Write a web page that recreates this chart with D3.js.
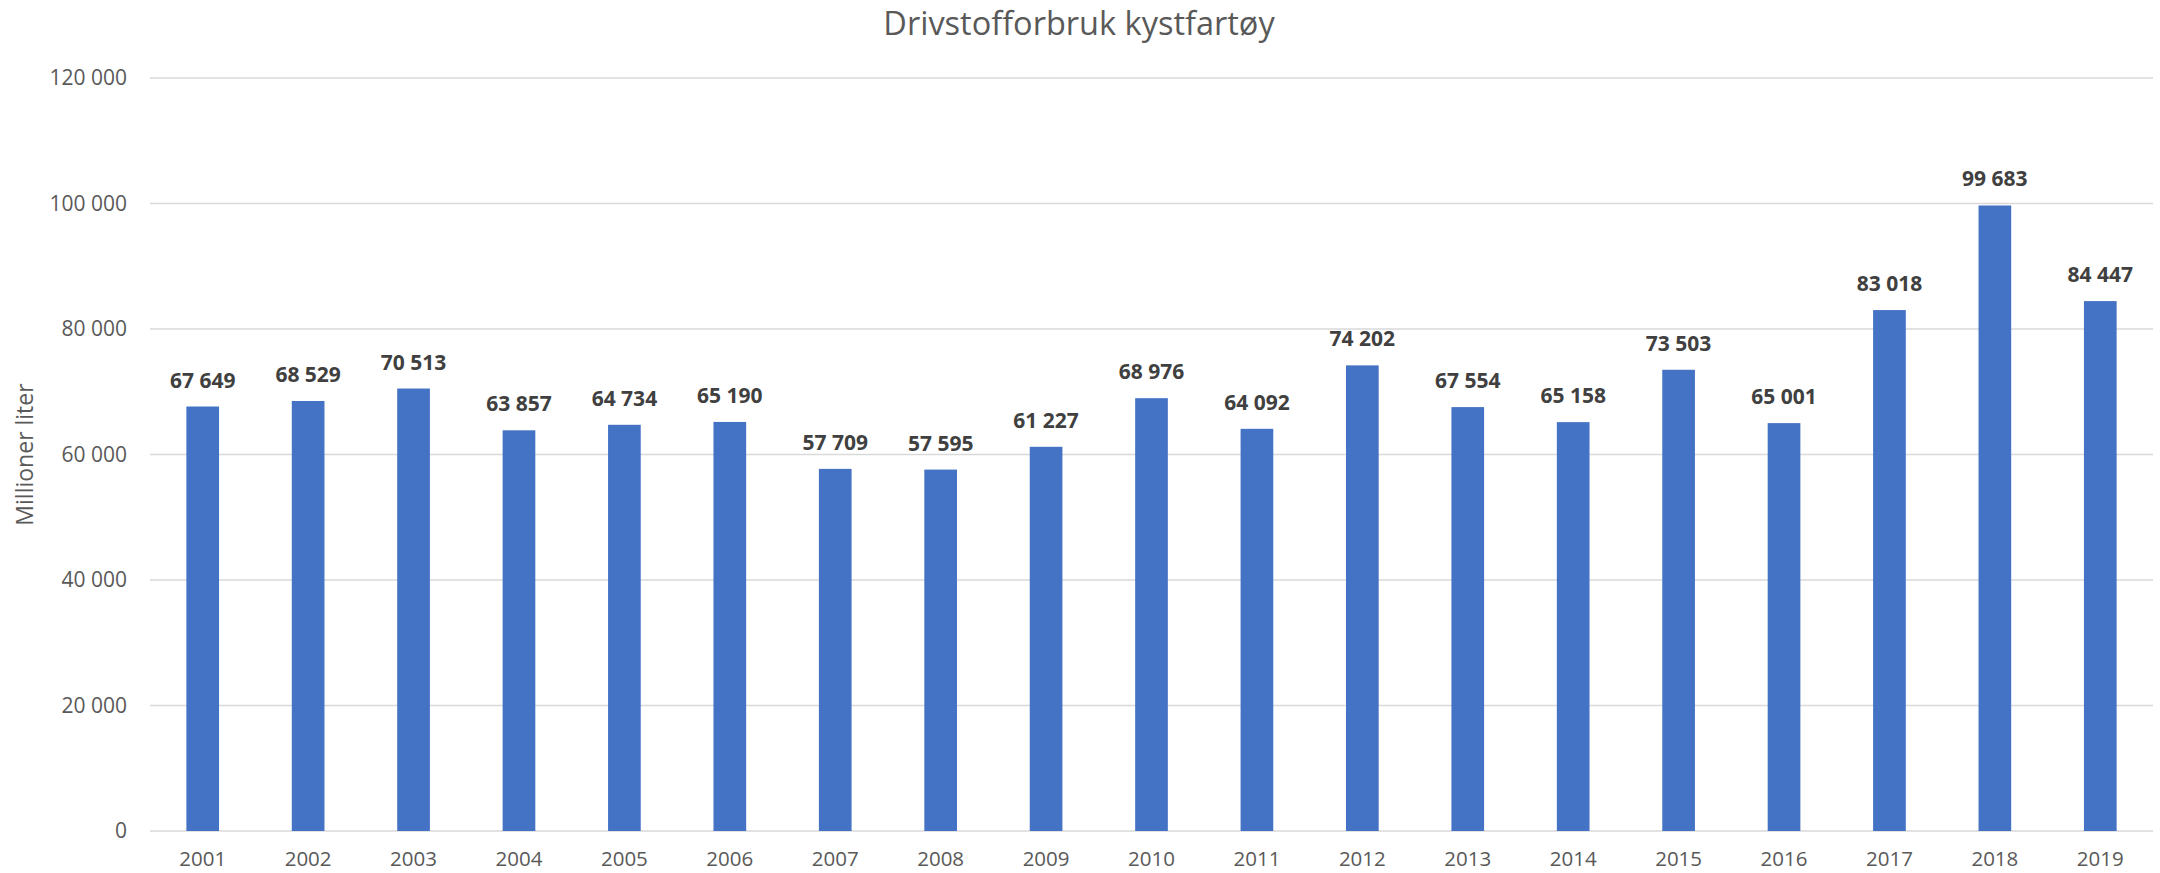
<!DOCTYPE html>
<html>
<head>
<meta charset="utf-8">
<script src="https://cdn.jsdelivr.net/npm/d3@7"></script>
<style>
  html, body { margin: 0; padding: 0; background: #fff; }
  svg { display: block; font-family: "Open Sans", sans-serif; }
</style>
</head>
<body>
<script>
const years = ["2001","2002","2003","2004","2005","2006","2007","2008","2009","2010",
               "2011","2012","2013","2014","2015","2016","2017","2018","2019"];
const fuel = [67649, 68529, 70513, 63857, 64734, 65190, 57709, 57595, 61227, 68976,
              64092, 74202, 67554, 65158, 73503, 65001, 83018, 99683, 84447];
const yTicks = [0, 20000, 40000, 60000, 80000, 100000, 120000];

const width = 2160, height = 873;
const margin = {top: 78, right: 7, bottom: 42, left: 150};

const fmt = v => d3.format(",")(v).replace(/,/g, " ");

const svg = d3.select("body").append("svg")
    .attr("width", width)
    .attr("height", height);

const x = d3.scaleBand()
    .domain(years)
    .range([margin.left, width - margin.right])
    .paddingInner(0.69)
    .paddingOuter(0.345);

const y = d3.scaleLinear()
    .domain([0, 120000])
    .range([height - margin.bottom, margin.top]);

// gridlines
svg.append("g")
  .selectAll("line")
  .data(yTicks)
  .join("line")
    .attr("x1", margin.left)
    .attr("x2", width - margin.right)
    .attr("y1", d => y(d))
    .attr("y2", d => y(d))
    .attr("stroke", "#d9d9d9")
    .attr("stroke-width", 1.5);

// y tick labels
svg.append("g")
    .attr("text-anchor", "end")
    .attr("fill", "#595959")
    .style("font-size", "21px")
  .selectAll("text")
  .data(yTicks)
  .join("text")
    .attr("x", 127)
    .attr("y", d => y(d))
    .attr("dy", "0.35em")
    .text(fmt);

// bars
svg.append("g")
    .attr("fill", "#4472c4")
  .selectAll("rect")
  .data(fuel)
  .join("rect")
    .attr("x", (d, i) => x(years[i]))
    .attr("y", d => y(d))
    .attr("width", x.bandwidth())
    .attr("height", d => y(0) - y(d));

// value labels
svg.append("g")
    .attr("text-anchor", "middle")
    .attr("fill", "#404040")
    .style("font-size", "21px")
    .style("font-weight", "bold")
  .selectAll("text")
  .data(fuel)
  .join("text")
    .attr("x", (d, i) => x(years[i]) + x.bandwidth() / 2)
    .attr("y", d => y(d) - 19)
    .text(fmt);

// x tick labels
svg.append("g")
    .attr("text-anchor", "middle")
    .attr("fill", "#595959")
    .style("font-size", "20.5px")
  .selectAll("text")
  .data(years)
  .join("text")
    .attr("x", d => x(d) + x.bandwidth() / 2)
    .attr("y", 866)
    .text(d => d);

// title
svg.append("text")
    .attr("x", 1079)
    .attr("y", 35)
    .attr("text-anchor", "middle")
    .attr("fill", "#595959")
    .style("font-size", "32.5px")
    .text("Drivstofforbruk kystfartøy");

// y axis title
svg.append("text")
    .attr("transform", `translate(33,${(y(0) + y(120000)) / 2}) rotate(-90)`)
    .attr("text-anchor", "middle")
    .attr("fill", "#595959")
    .style("font-size", "23px")
    .text("Millioner liter");
</script>
</body>
</html>
